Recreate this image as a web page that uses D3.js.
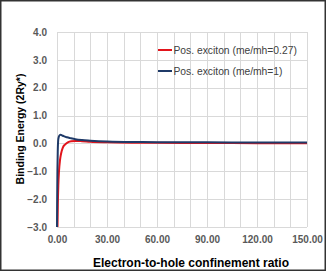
<!DOCTYPE html>
<html><head><meta charset="utf-8">
<script src="https://cdn.jsdelivr.net/npm/d3@7"></script>
<style>body{margin:0;background:#fff}svg{display:block}</style>
</head><body>
<svg id="c" width="327" height="272"></svg>
<script>
const xTicks = [0, 30, 60, 90, 120, 150];
const yTicks = [-3, -2, -1, 0, 1, 2, 3, 4];
const seriesNames = ["Pos. exciton (me/mh=0.27)", "Pos. exciton (me/mh=1)"];
const redX = [0.3, 0.5, 0.8, 1.2, 1.8, 2.5, 3.5, 4.8, 6.5, 8.5, 11, 15, 20, 30, 45, 60, 90, 120, 150];
const redY = [-3.0, -2.2, -1.5, -1.0, -0.6, -0.35, -0.15, -0.04, 0.04, 0.08, 0.09, 0.08, 0.06, 0.04, 0.025, 0.02, 0.015, 0.01, 0.005];
const blueX = [0, 0.1, 0.25, 0.45, 0.7, 1.0, 1.5, 2.2, 3, 4, 6, 8, 11, 15, 20, 30, 45, 60, 90, 120, 150];
const blueY = [-3.0, -2.0, -1.0, -0.3, 0.1, 0.22, 0.29, 0.31, 0.29, 0.26, 0.22, 0.19, 0.15, 0.12, 0.1, 0.07, 0.05, 0.045, 0.04, 0.035, 0.03];

const svg = d3.select("#c");
const L = 57, R = 307, T = 32, B = 227;
const x = d3.scaleLinear().domain([0, 150]).range([L, R]);
const y = d3.scaleLinear().domain([-3, 4]).range([B, T]);

const grid = svg.append("g").attr("stroke", "#d9d9d9").attr("stroke-width", 1);
d3.range(0, 151, 10).forEach(v => grid.append("line")
  .attr("x1", Math.round(x(v)) + 0.5).attr("x2", Math.round(x(v)) + 0.5)
  .attr("y1", T).attr("y2", B));
yTicks.forEach(v => grid.append("line")
  .attr("x1", L).attr("x2", R)
  .attr("y1", Math.round(y(v)) + 0.5).attr("y2", Math.round(y(v)) + 0.5));

const font = "'Liberation Sans', Arial, sans-serif";
const xAxis = svg.append("g").attr("transform", `translate(0,${B})`)
  .call(d3.axisBottom(x).tickValues(xTicks).tickFormat(d3.format(".2f")).tickSize(0).tickPadding(9));
const yAxis = svg.append("g").attr("transform", `translate(${L},0)`)
  .call(d3.axisLeft(y).tickValues(yTicks).tickFormat(d3.format(".1f")).tickSize(0).tickPadding(10));
[xAxis, yAxis].forEach(a => {
  a.select(".domain").remove();
  a.selectAll("text").attr("fill", "#595959").style("font-family", font)
    .style("font-size", "10px").style("font-weight", "bold");
});

const line = d3.line().x(d => x(d[0])).y(d => y(d[1])).curve(d3.curveMonotoneX);
svg.append("path").datum(redX.map((v, i) => [v, redY[i]]))
  .attr("d", line).attr("fill", "none").attr("stroke", "#e2141b").attr("stroke-width", 2);
svg.append("path").datum(blueX.map((v, i) => [v, blueY[i]]))
  .attr("d", line).attr("fill", "none").attr("stroke", "#1f3a68").attr("stroke-width", 2);

const colors = ["#e2141b", "#1f3a68"];
seriesNames.forEach((n, i) => {
  const yy = 50 + i * 21;
  svg.append("line").attr("x1", 158).attr("x2", 172).attr("y1", yy).attr("y2", yy)
    .attr("stroke", colors[i]).attr("stroke-width", 2);
  svg.append("text").attr("x", 173.5).attr("y", yy + 3.5).text(n)
    .attr("fill", "#404040").style("font-family", font).style("font-size", "10.3px");
});

svg.append("text").attr("x", 191).attr("y", 266.5).attr("text-anchor", "middle")
  .text("Electron-to-hole confinement ratio")
  .style("font-family", font).style("font-size", "12px").style("font-weight", "bold").attr("fill", "#000");
svg.append("text").attr("transform", "translate(24,129) rotate(-90)").attr("text-anchor", "middle")
  .text("Binding Energy (2Ry*)")
  .style("font-family", font).style("font-size", "10.5px").style("font-weight", "bold").attr("fill", "#000");

svg.append("rect").attr("x", 0.75).attr("y", 0.75).attr("width", 324.5).attr("height", 269.5)
  .attr("fill", "none").attr("stroke", "#333").attr("stroke-width", 1.5);
</script>
</body></html>
